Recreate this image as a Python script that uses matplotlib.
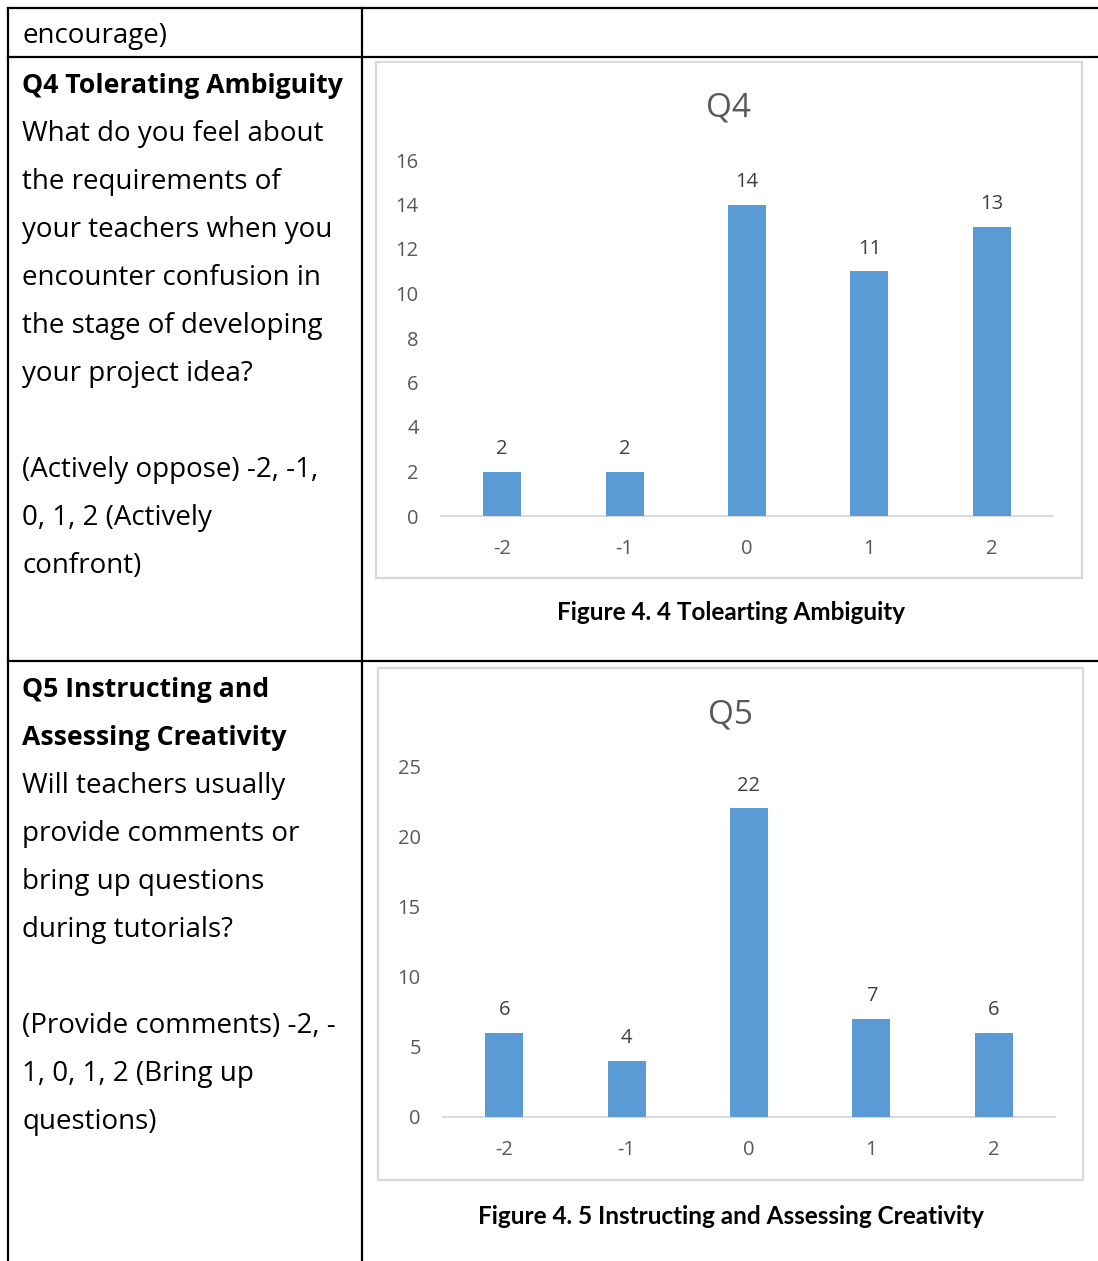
import matplotlib.pyplot as plt
from matplotlib.lines import Line2D
from matplotlib.patches import Rectangle

W, H = 1098, 1261
fig = plt.figure(figsize=(W / 100, H / 100), dpi=100)
fig.patch.set_facecolor("white")

BODY_FONT = ["Open Sans", "DejaVu Sans"]
CAPTION_FONT = ["Lato", "DejaVu Sans"]

# Survey data
categories = ["-2", "-1", "0", "1", "2"]
q4_counts = [2, 2, 14, 11, 13]
q5_counts = [6, 4, 22, 7, 6]
q4_yticks = [0, 2, 4, 6, 8, 10, 12, 14, 16]
q5_yticks = [0, 5, 10, 15, 20, 25]

BAR_COLOR = "#5b9bd5"
TEXT_GRAY = "#595959"
AXIS_GRAY = "#d9d9d9"


def fx(px):
    return px / W


def fy(py):
    return 1 - py / H


def hline(x0, x1, y, lw=1.6):
    fig.add_artist(Line2D([fx(x0), fx(x1)], [fy(y), fy(y)], color="black",
                          lw=lw, transform=fig.transFigure))


def vline(x, y0, y1, lw=1.6):
    fig.add_artist(Line2D([fx(x), fx(x)], [fy(y0), fy(y1)], color="black",
                          lw=lw, transform=fig.transFigure))


# Table grid
hline(8, W, 8)
hline(8, W, 57)
hline(8, W, 661)
vline(8, 8, H)
vline(362, 8, H)


def body(x, y, s, bold=False):
    fig.text(fx(x), fy(y + 3), s, ha="left", va="center",
             fontsize=19.2 if bold else 20.0,
             family=BODY_FONT, fontweight="bold" if bold else "normal",
             color="black")


body(22, 33, "encourage)")

q4_lines = [
    ("Q4 Tolerating Ambiguity", True, 83),
    ("What do you feel about", False, 131),
    ("the requirements of", False, 179),
    ("your teachers when you", False, 227),
    ("encounter confusion in", False, 275),
    ("the stage of developing", False, 323),
    ("your project idea?", False, 371),
    ("(Actively oppose) -2, -1,", False, 467),
    ("0, 1, 2 (Actively", False, 515),
    ("confront)", False, 563),
]
for s, b, y in q4_lines:
    body(22, y, s, b)

q5_lines = [
    ("Q5 Instructing and", True, 687),
    ("Assessing Creativity", True, 735),
    ("Will teachers usually", False, 783),
    ("provide comments or", False, 831),
    ("bring up questions", False, 879),
    ("during tutorials?", False, 927),
    ("(Provide comments) -2, -", False, 1023),
    ("1, 0, 1, 2 (Bring up", False, 1071),
    ("questions)", False, 1119),
]
for s, b, y in q5_lines:
    body(22, y, s, b)


def chart(frame, axis_box, title, title_y, counts, yticks, caption, cap_y):
    # chart frame, kept behind the plot area
    x0, y0, x1, y1 = frame
    fig.add_artist(Rectangle((fx(x0), fy(y1)), fx(x1 - x0), (y1 - y0) / H,
                             transform=fig.transFigure, facecolor="white",
                             edgecolor=AXIS_GRAY, lw=1.6, zorder=-1))
    ax_l, ax_top, ax_r, ax_bot = axis_box
    ax = fig.add_axes([fx(ax_l), fy(ax_bot), fx(ax_r - ax_l),
                       (ax_bot - ax_top) / H])
    ax.set_facecolor("none")
    xs = range(len(categories))
    bars = ax.bar(xs, counts, width=0.31, color=BAR_COLOR, zorder=3)
    ax.set_xlim(-0.5, len(categories) - 0.5)
    ax.set_ylim(yticks[0], yticks[-1])
    ax.set_yticks(yticks)
    ax.set_xticks(list(xs))
    ax.set_xticklabels(categories)
    for sp in ("top", "right", "left"):
        ax.spines[sp].set_visible(False)
    ax.spines["bottom"].set_color(AXIS_GRAY)
    ax.spines["bottom"].set_linewidth(1.4)
    ax.tick_params(axis="both", length=0, labelsize=14.5, colors=TEXT_GRAY)
    ax.tick_params(axis="x", pad=16.5)
    ax.tick_params(axis="y", pad=16)
    for lab in ax.get_xticklabels() + ax.get_yticklabels():
        lab.set_family(BODY_FONT)
    ax.bar_label(bars, labels=[str(v) for v in counts], padding=9,
                 fontsize=14.5, color="#404040", family=BODY_FONT)
    fig.text(fx((x0 + x1) / 2), fy(title_y + 3), title, ha="center",
             va="center", fontsize=24, color=TEXT_GRAY, family=BODY_FONT)
    fig.text(fx(731), fy(cap_y + 1), caption, ha="center", va="center",
             fontsize=17.5, fontweight="bold", color="black",
             family=CAPTION_FONT)


chart((376, 62, 1082, 578), (441, 160, 1053, 516), "Q4", 105, q4_counts,
      q4_yticks, "Figure 4. 4 Tolearting Ambiguity", 611)
chart((378, 668, 1083, 1180), (443, 766, 1055, 1117), "Q5", 712, q5_counts,
      q5_yticks, "Figure 4. 5 Instructing and Assessing Creativity", 1215)

fig.savefig("out.png", dpi=100, facecolor="white")
